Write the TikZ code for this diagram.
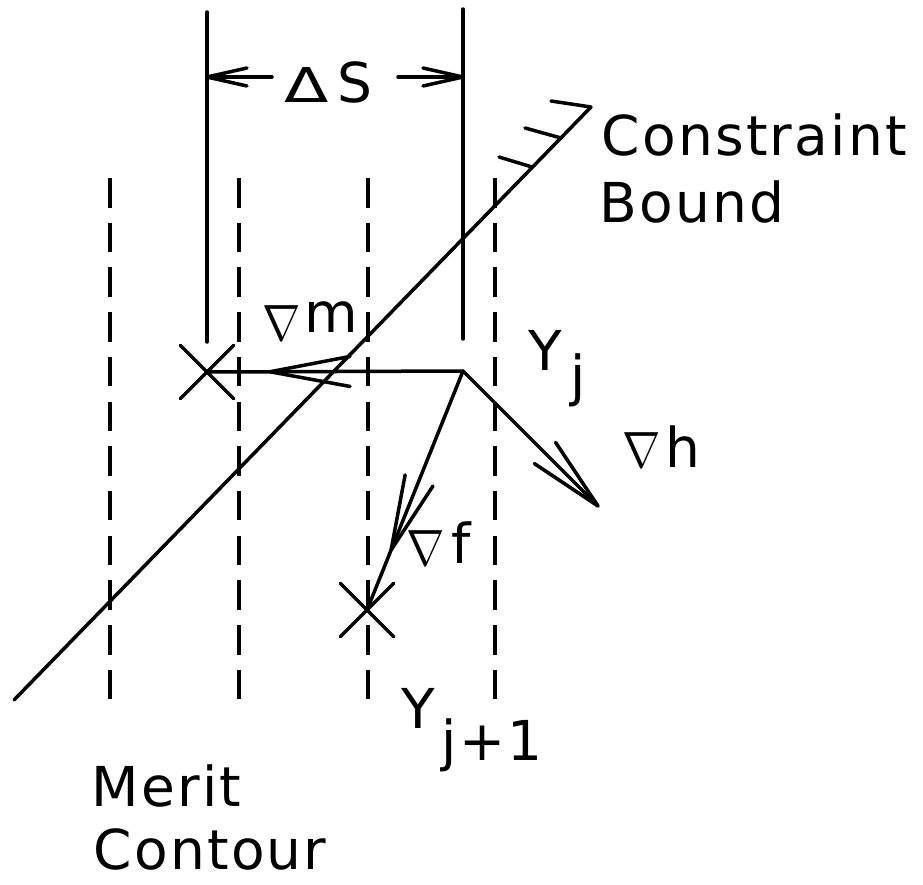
\documentclass[tikz,border=0pt]{standalone}
\usepackage{fontspec}
\setmainfont{DejaVu Sans}[LetterSpace=4]
\usetikzlibrary{calc,shapes.misc}
\newcommand{\chevhead}[4]{%
  \coordinate (cb) at ($(#1)!#3!(#2)$);
  \draw[line join=round] ($(cb)!#4!90:(#1)$) -- (#1) -- ($(cb)!#4!-90:(#1)$);}
\newcommand{\bignabla}{\scalebox{4.6}[5.1]{$\nabla$}}
\tikzset{
  lbl/.style={inner sep=0pt, anchor=base west, text depth=0pt, font=\fontsize{55}{60}\selectfont},
  nab/.style={inner sep=0pt, anchor=base west, text depth=0pt},
  dlt/.style={inner sep=0pt, anchor=base west, text depth=0pt, font=\fontsize{48}{52}\selectfont},
  contour/.style={dash pattern=on 29.5pt off 15.2pt},
  xmark/.style={draw, cross out, minimum size=50pt, inner sep=0pt},
}
\begin{document}
\begin{tikzpicture}[x=1pt,y=-1pt,line width=3.5pt,line cap=round]
\useasboundingbox (0,0) rectangle (923,884);
% step-size boundaries
\coordinate (sLt) at (207,12); \coordinate (sLb) at (207,342);
\coordinate (sRt) at (463,9);  \coordinate (sRb) at (463,339);
\draw (sLt) -- (sLb);
\draw (sRt) -- (sRb);
% Delta S dimension
\coordinate (dLtip) at (207,77); \coordinate (dLtail) at (272,77);
\coordinate (dRtail) at (398,77); \coordinate (dRtip) at (463,77);
\draw (dLtail) -- (dLtip); \chevhead{dLtip}{dLtail}{40pt}{9pt}
\draw (dRtail) -- (dRtip); \chevhead{dRtip}{dRtail}{40pt}{9pt}
\node[dlt] (delta) at (283,102) {\scalebox{1.35}[1]{Δ}};
\node[lbl] (S) at (336,102) {S};
% merit contours
\foreach \x/\n in {110/c1,239/c2,368/c3,495/c4}{
  \coordinate (\n t) at (\x,178); \coordinate (\n b) at (\x,699);
  \draw[contour,line cap=butt] (\n t) -- (\n b);
}
% constraint bound
\coordinate (cbA) at (14,700); \coordinate (cbB) at (591,107);
\draw (cbA) -- (cbB);
\coordinate (h1) at (591,107); \coordinate (h1e) at (551,101);
\coordinate (h2) at (561,138); \coordinate (h2e) at (525,128);
\coordinate (h3) at (532,167); \coordinate (h3e) at (499,157);
\draw (h1) -- (h1e); \draw (h2) -- (h2e); \draw (h3) -- (h3e);
% points
\coordinate (Yj) at (463,371);
\node[xmark] (Xm) at (207,372) {};
\node[xmark] (Xf) at (367,610) {};
\coordinate (Hend) at (598,506);
\draw (Yj) -- (Xm.center);
\draw (Yj) -- (Hend);
\draw (Yj) -- (Xf.center);
\coordinate (Tm) at ($(Yj)!0.754!(Xm.center)$);
\coordinate (Tf) at ($(Yj)!0.749!(Xf.center)$);
\chevhead{Tm}{Yj}{80pt}{15pt}
\chevhead{Tf}{Yj}{75pt}{15pt}
\chevhead{Hend}{Yj}{75pt}{15pt}
% labels
\node[nab] (nm) at (261,340) {\bignabla};
\node[lbl] (m) at (303,332) {m};
\node[nab] (nh) at (621,467) {\bignabla};
\node[lbl] (h) at (664,467) {h};
\node[nab] (nf) at (405,565) {\bignabla};
\node[lbl] (f) at (450,563) {f};
\node[lbl] (Y1) at (527,370) {Y};
\node[lbl] (j1) at (569,395) {j};
\node[lbl] (Y2) at (400,728) {Y};
\node[lbl] (j2) at (440,760) {j+1};
\node[lbl] (con) at (600,155) {Constraint};
\node[lbl] (bou) at (598,222) {Bound};
\node[lbl] (mer) at (90,806) {Merit};
\node[lbl] (cot) at (92,869) {Contour};
\end{tikzpicture}
\end{document}
